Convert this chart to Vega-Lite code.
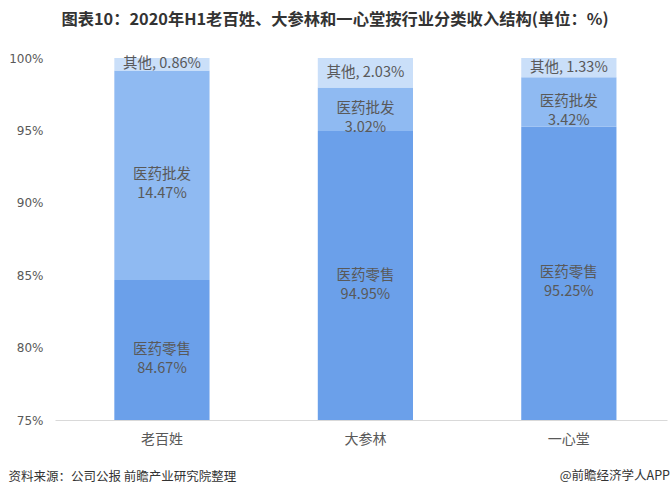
{
  "$schema": "https://vega.github.io/schema/vega-lite/v6.json",
  "width": 612,
  "height": 362,
  "autosize": {"type": "pad"},
  "padding": {"left": 8, "top": 11, "right": 6, "bottom": 8},
  "background": "#ffffff",
  "title": {
    "text": "图表10：2020年H1老百姓、大参林和一心堂按行业分类收入结构(单位：%)",
    "font": "Noto Sans CJK SC",
    "fontSize": 16.3,
    "fontWeight": "bold",
    "color": "#333333",
    "anchor": "middle",
    "dx": -26,
    "offset": 24
  },
  "config": {"view": {"stroke": null}},
  "layer": [
    {
      "data": {
        "values": [
          {"company": "老百姓", "cat": "医药零售", "order": 1, "value": 84.67},
          {"company": "老百姓", "cat": "医药批发", "order": 2, "value": 14.47},
          {"company": "老百姓", "cat": "其他", "order": 3, "value": 0.86},
          {"company": "大参林", "cat": "医药零售", "order": 1, "value": 94.95},
          {"company": "大参林", "cat": "医药批发", "order": 2, "value": 3.02},
          {"company": "大参林", "cat": "其他", "order": 3, "value": 2.03},
          {"company": "一心堂", "cat": "医药零售", "order": 1, "value": 95.25},
          {"company": "一心堂", "cat": "医药批发", "order": 2, "value": 3.42},
          {"company": "一心堂", "cat": "其他", "order": 3, "value": 1.33}
        ]
      },
      "transform": [
        {"stack": "value", "groupby": ["company"], "sort": [{"field": "order", "order": "ascending"}], "as": ["v0", "v1"]},
        {"calculate": "(max(datum.v0, 75) + datum.v1) / 2", "as": "mid"},
        {"calculate": "datum.cat == '其他' ? [datum.cat + ', ' + format(datum.value, '.2f') + '%'] : [datum.cat, format(datum.value, '.2f') + '%']", "as": "label"}
      ],
      "layer": [
        {
          "mark": {"type": "bar", "clip": true},
          "encoding": {
            "x": {
              "field": "company",
              "type": "nominal",
              "sort": ["老百姓", "大参林", "一心堂"],
              "scale": {"paddingInner": 0.532, "paddingOuter": 0.27, "align": 0.54},
              "axis": {
                "title": "资料来源：公司公报 前瞻产业研究院整理",
                "titleFont": "Noto Sans CJK SC",
                "titleFontSize": 12.5,
                "titleFontWeight": "normal",
                "titleColor": "#333333",
                "titleAnchor": "start",
                "titleAlign": "left",
                "titleBaseline": "middle",
                "titleX": -47,
                "titleY": 56,
                "labelAngle": 0,
                "labelFont": "Noto Sans CJK SC",
                "labelFontSize": 14,
                "labelColor": "#595959",
                "labelPadding": 12,
                "ticks": false,
                "domainColor": "#d9d9d9"
              }
            },
            "y": {
              "field": "v0",
              "type": "quantitative",
              "scale": {"domain": [75, 100], "nice": false},
              "axis": {
                "title": null,
                "values": [75, 80, 85, 90, 95, 100],
                "labelExpr": "datum.value + '%'",
                "labelFont": "DejaVu Sans",
                "labelFontSize": 12,
                "labelColor": "#595959",
                "labelPadding": 12,
                "ticks": false,
                "domain": false,
                "grid": false
              }
            },
            "y2": {"field": "v1"},
            "color": {
              "field": "cat",
              "type": "nominal",
              "scale": {"domain": ["医药零售", "医药批发", "其他"], "range": ["#6ba0ea", "#8fbaf2", "#cadff9"]},
              "legend": null
            }
          }
        },
        {
          "mark": {"type": "text", "font": "Noto Sans CJK SC", "fontSize": 14.5, "color": "#595959", "lineHeight": 19, "baseline": "middle"},
          "encoding": {
            "x": {"field": "company", "type": "nominal", "sort": ["老百姓", "大参林", "一心堂"]},
            "y": {"field": "mid", "type": "quantitative"},
            "text": {"field": "label"}
          }
        }
      ]
    },
    {
      "data": {"values": [{"t": "@前瞻经济学人APP"}]},
      "mark": {"type": "text", "font": "Noto Sans CJK SC", "fontSize": 12.5, "color": "#333333", "align": "right", "baseline": "middle", "dx": 3, "dy": 56},
      "encoding": {
        "x": {"value": "width"},
        "y": {"value": "height"},
        "text": {"field": "t"}
      }
    }
  ]
}
